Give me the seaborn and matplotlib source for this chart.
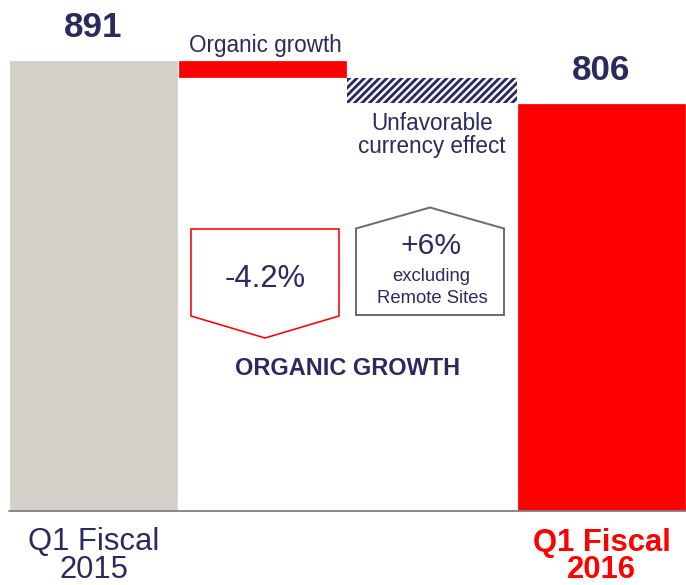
import matplotlib
matplotlib.use("Agg")
import matplotlib.pyplot as plt
import seaborn as sns
import pandas as pd
from matplotlib.patches import Polygon

# ---- data ----
categories = ["Q1 Fiscal 2015", "Organic growth", "Currency effect", "Q1 Fiscal 2016"]
start_value = 891
organic_change = -37
currency_change = -48
end_value = 806
bar_heights = [start_value, -organic_change, -currency_change, end_value]
bar_bottoms = [0, start_value + organic_change, end_value, 0]
value_labels = ["891", "806"]
axis_labels = [("Q1 Fiscal", "2015"), ("Q1 Fiscal", "2016")]
organic_pct = "-4.2%"
organic_excl = "+6%"

# ---- style ----
NAVY = "#2B2A5E"
RED = "#FF0000"
GREY = "#D3D0C9"
W, H, DPI = 686, 585, 90

sns.set_theme(style="white")
plt.rcParams["font.family"] = ["Liberation Sans", "DejaVu Sans"]
plt.rcParams["hatch.linewidth"] = 2.3
plt.rcParams["hatch.color"] = NAVY

def pt(px):
    return px * 72 / DPI

fig = plt.figure(figsize=(W / DPI, H / DPI), dpi=DPI)
ax_bottom_px = 510.5
ax = fig.add_axes([8.7 / W, (H - ax_bottom_px) / H, 1 - 8.7 / W, ax_bottom_px / H])

df = pd.DataFrame({"cat": categories, "height": bar_heights, "bottom": bar_bottoms})
styles = [
    dict(color=GREY),
    dict(color=RED),
    dict(facecolor="white", edgecolor=NAVY, hatch="////", linewidth=0),
    dict(color=RED),
]
for i, row in df.iterrows():
    sns.barplot(x=[row["cat"]], y=[row["height"]], order=categories, ax=ax,
                width=1.0, bottom=row["bottom"], saturation=1, **styles[i])

ax.set_xlim(-0.5, 3.5)
ax.set_ylim(0, ax_bottom_px / (43 / 85))
for s in ax.spines.values():
    s.set_visible(False)
ax.set_xticks([])
ax.set_yticks([])
ax.set_xlabel("")
ax.set_ylabel("")
ax.axhline(0, color="#7F7F7F", lw=pt(1.8), clip_on=False)

# value labels
for xi, val, lab in [(0, start_value, value_labels[0]), (3, end_value, value_labels[1])]:
    ax.annotate(lab, (xi, val), xytext=(0, pt(22.5)), textcoords="offset points",
                ha="center", va="baseline", fontsize=pt(35), fontweight="bold", color=NAVY)

def ftext(x, y, s, **kw):
    fig.text(x / W, 1 - y / H, s, ha="center", va="baseline", **kw)

ftext(265, 51.7, "Organic growth", fontsize=pt(22.5), color=NAVY)
ftext(432, 130, "Unfavorable", fontsize=pt(22.5), color=NAVY)
ftext(432, 153.3, "currency effect", fontsize=pt(22.5), color=NAVY)

ftext(265.5, 287, organic_pct, fontsize=pt(31), color=NAVY)
ftext(431, 253.5, organic_excl, fontsize=pt(30), color=NAVY)
ftext(431, 280.7, "excluding", fontsize=pt(18.5), color=NAVY)
ftext(432, 303, "Remote Sites", fontsize=pt(18.5), color=NAVY)
ftext(347.5, 375, "ORGANIC GROWTH", fontsize=pt(23.5), fontweight="bold", color=NAVY)

ftext(93.5, 550.5, axis_labels[0][0], fontsize=pt(31), color=NAVY)
ftext(93.5, 578.5, axis_labels[0][1], fontsize=pt(31), color=NAVY)
ftext(601.5, 550.5, axis_labels[1][0], fontsize=pt(31), fontweight="bold", color=RED)
ftext(601.5, 578.5, axis_labels[1][1], fontsize=pt(31), fontweight="bold", color=RED)

def fpoly(pts, color, lw):
    p = Polygon([(x / W, 1 - y / H) for x, y in pts], closed=True, fill=False,
                edgecolor=color, linewidth=lw, transform=fig.transFigure, joinstyle="miter")
    fig.patches.append(p)

fpoly([(191, 229), (339, 229), (339, 316), (265, 338), (191, 316)], RED, pt(1.6))
fpoly([(356, 315), (504, 315), (504, 228.5), (430, 207.5), (356, 228.5)], "#6E6E6E", pt(2))

fig.savefig("out.png", dpi=DPI)
